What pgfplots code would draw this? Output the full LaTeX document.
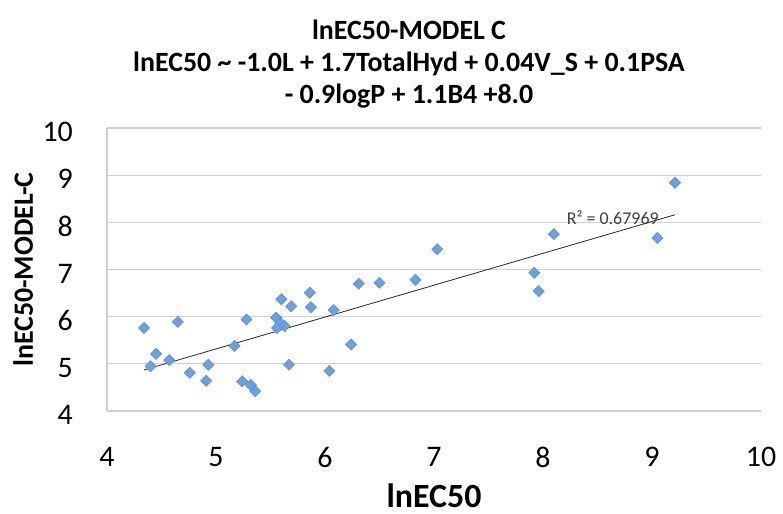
\documentclass[border=0pt]{standalone}
\usepackage{pgfplots}
\pgfplotsset{compat=1.18}
\usepackage{fontspec}
\setmainfont{Carlito}
\definecolor{mk}{RGB}{108,160,222}
\definecolor{mkd}{RGB}{84,136,204}
\definecolor{gridc}{RGB}{208,208,208}
\begin{document}
\begin{tikzpicture}
\begin{axis}[
  name=ax,
  scale only axis,
  width=654bp, height=283bp,
  xmin=4, xmax=10, ymin=4, ymax=10,
  xtick={4,5,6,7,8,9,10},
  ytick={4,5,6,7,8,9,10},
  /pgf/number format/assume math mode=true,
  tick label style={font=\fontsize{30}{30}\selectfont, inner sep=0pt},
  xticklabel style={yshift=-36bp},
  yticklabel style={xshift=-34bp, yshift=-4bp},
  major tick length=0pt,
  ymajorgrids,
  grid style={draw=gridc, line width=1.3bp},
  axis x line*=bottom, axis y line*=left,
  axis line style={draw=gridc, line width=1.3bp, -},
  clip=false,
]
\addplot[only marks, mark=square*, mark size=4bp,
  mark options={rotate=45, fill=mk, draw=mkd, line width=0.4bp}]
coordinates {
(4.34,5.76) (4.40,4.95) (4.45,5.21) (4.57,5.08) (4.65,5.89)
(4.76,4.81) (4.91,4.64) (4.93,4.98) (5.17,5.38) (5.24,4.63)
(5.28,5.94) (5.32,4.55) (5.36,4.42) (5.55,5.98) (5.59,5.87)
(5.63,5.80) (5.56,5.76) (5.60,6.37) (5.69,6.22) (5.67,4.98)
(5.86,6.51) (5.87,6.20) (6.04,4.85) (6.08,6.14) (6.24,5.41)
(6.31,6.70) (6.50,6.72) (6.83,6.78) (7.03,7.43) (7.92,6.93)
(7.96,6.54) (8.10,7.75) (9.05,7.67) (9.21,8.84)
};
\addplot[black!85, line width=0.8bp] coordinates {(4.34,4.87) (9.21,8.16)};
\node[font=\fontsize{18}{18}\selectfont, text=black!75] at (axis cs:8.64,8.09) {R² = 0.67969};
\end{axis}
\node[anchor=south, inner sep=0pt, align=center, font=\bfseries\fontsize{28}{32}\selectfont]
  at ([xshift=302bp, yshift=20bp]ax.north west)
  {lnEC50-MODEL C\\lnEC50 \textasciitilde{} -1.0L + 1.7TotalHyd + 0.04V\_S + 0.1PSA\\- 0.9logP + 1.1B4 +8.0};
\node[anchor=base, inner sep=0pt, font=\bfseries\fontsize{34}{34}\selectfont]
  at ([yshift=-96bp]ax.south) {lnEC50};
\node[anchor=base, rotate=90, inner sep=0pt, font=\bfseries\fontsize{28}{28}\selectfont]
  at ([xshift=-74bp]ax.west) {lnEC50-MODEL-C};
\pgfresetboundingbox
\path[use as bounding box] ([xshift=-107bp,yshift=-103bp]ax.south west) rectangle ([xshift=22bp,yshift=128bp]ax.north east);
\end{tikzpicture}
\end{document}
